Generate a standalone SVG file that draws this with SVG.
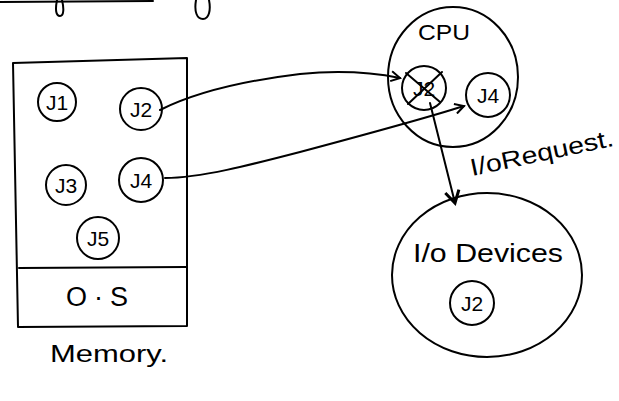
<svg xmlns="http://www.w3.org/2000/svg" width="619" height="401" viewBox="0 0 619 401">
<style>
.s{fill:none;stroke:#000;stroke-width:2;stroke-linecap:round;stroke-linejoin:round}
.t{font-family:"Liberation Sans",Arial,sans-serif;fill:#000}
.j{font-size:21px;text-anchor:middle}
</style>
<defs>
<marker id="ah" markerWidth="12" markerHeight="12" refX="10" refY="6" orient="auto" markerUnits="userSpaceOnUse">
<path d="M1,1 L10,6 L1,11" fill="none" stroke="#000" stroke-width="2"/>
</marker>
<marker id="ah2" markerWidth="18" markerHeight="18" refX="14" refY="9" orient="auto" markerUnits="userSpaceOnUse">
<path d="M2,2 L14,9 L2,16" fill="none" stroke="#000" stroke-width="3"/>
</marker>
</defs>
<rect width="619" height="401" fill="#fff"/>
<g id="top-fragments">
<path class="s" d="M0,2 L153,1"/>
<path class="s" d="M57,0 C55,10 56,16 60,16 C64,16 64,8 62,0"/>
<path class="s" d="M196,0 C194,12 197,19 203,19 C209,19 211,10 209,0"/>
</g>
<g id="memory">
<path class="s" d="M13,63 L187,58 L187,326 L18,327 L13,63"/>
<path class="s" d="M19,268 L186,267"/>
<text class="t" x="66" y="306" font-size="27" textLength="62" lengthAdjust="spacing">O·S</text>
<text class="t" x="50" y="362" font-size="24" textLength="118" lengthAdjust="spacingAndGlyphs">Memory.</text>
</g>
<g id="j1"><circle class="s" cx="57" cy="102" r="19"/><text class="t j" x="57" y="110">J1</text></g>
<g id="j2"><circle class="s" cx="141" cy="109" r="21"/><text class="t j" x="141" y="117">J2</text></g>
<g id="j3"><circle class="s" cx="66" cy="185" r="20"/><text class="t j" x="66" y="193">J3</text></g>
<g id="j4"><circle class="s" cx="141" cy="180" r="22"/><text class="t j" x="141" y="188">J4</text></g>
<g id="j5"><circle class="s" cx="98" cy="238" r="21"/><text class="t j" x="98" y="246">J5</text></g>
<g id="cpu">
<ellipse class="s" cx="453" cy="77" rx="65" ry="70"/>
<text class="t" x="418" y="40" font-size="22" textLength="52" lengthAdjust="spacingAndGlyphs">CPU</text>
</g>
<g id="cpu-j2">
<circle class="s" cx="424" cy="88" r="22"/>
<text class="t j" x="424" y="96">J2</text>
<path class="s" d="M406,73 L440,102 M442,72 L408,104"/>
</g>
<g id="cpu-j4"><circle class="s" cx="488" cy="95" r="22"/><text class="t j" x="488" y="103">J4</text></g>
<g id="io">
<ellipse class="s" cx="487" cy="275" rx="95" ry="82"/>
<text class="t" x="413" y="262" font-size="25" textLength="150" lengthAdjust="spacingAndGlyphs">I/o Devices</text>
</g>
<g id="io-j2"><circle class="s" cx="472" cy="303" r="22"/><text class="t j" x="472" y="311">J2</text></g>
<g id="connectors">
<path class="s" d="M160,110 C200,90 250,80 300,74 C340,70 370,72 400,78" marker-end="url(#ah)"/>
<path class="s" d="M165,178 C200,178 250,165 300,152 C360,136 420,120 464,106" marker-end="url(#ah)"/>
<path class="s" d="M430,103 L455,203" stroke-width="3" marker-end="url(#ah2)"/>
</g>
<text class="t" x="472" y="176" font-size="24" textLength="146" lengthAdjust="spacingAndGlyphs" transform="rotate(-12 472 176)">I/oRequest.</text>
</svg>
